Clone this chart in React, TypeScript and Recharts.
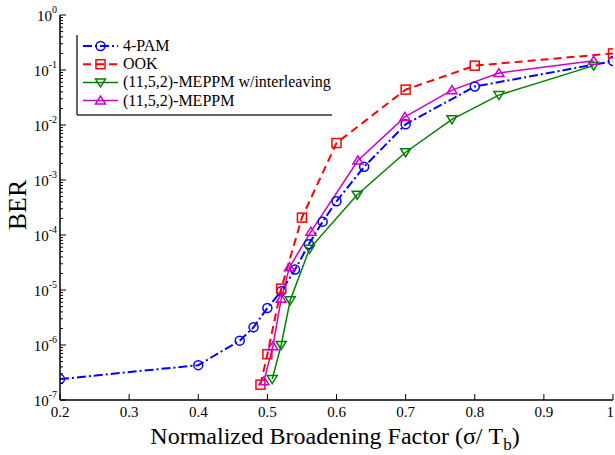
import React from 'react'
import { LineChart, Line, XAxis, YAxis } from 'recharts'

// values
const pamX = [0.2, 0.4, 0.46, 0.48, 0.5, 0.52, 0.54, 0.56, 0.58, 0.6, 0.64, 0.7, 0.8, 1.0]
const pamY = [2.4e-7, 4.3e-7, 1.2e-6, 2.1e-6, 4.7e-6, 9.5e-6, 2.35e-5, 6.8e-5, 1.75e-4, 4.1e-4, 1.74e-3, 1.03e-2, 5.0e-2, 1.45e-1]

const ookX = [0.49, 0.5, 0.52, 0.55, 0.6, 0.7, 0.8, 1.0]
const ookY = [1.9e-7, 6.8e-7, 1.06e-5, 2.07e-4, 4.7e-3, 4.4e-2, 1.2e-1, 2.0e-1]

const interX = [0.507, 0.52, 0.533, 0.561, 0.63, 0.7, 0.767, 0.835, 0.972]
const interY = [2.4e-7, 1.0e-6, 6.5e-6, 5.6e-5, 5.4e-4, 3.2e-3, 1.27e-2, 3.5e-2, 1.2e-1]

const meppmX = [0.495, 0.508, 0.52, 0.532, 0.563, 0.631, 0.699, 0.767, 0.835, 0.972]
const meppmY = [2.2e-7, 9.5e-7, 6.9e-6, 2.6e-5, 1.15e-4, 2.26e-3, 1.4e-2, 4.3e-2, 8.8e-2, 1.48e-1]

const xTicks = [0.2, 0.3, 0.4, 0.5, 0.6, 0.7, 0.8, 0.9, 1]
const xTickLabels = ['0.2', '0.3', '0.4', '0.5', '0.6', '0.7', '0.8', '0.9', '1']
const decadeTicks = [1e-7, 1e-6, 1e-5, 1e-4, 1e-3, 1e-2, 1e-1, 1]
const decadeExps = ['-7', '-6', '-5', '-4', '-3', '-2', '-1', '0']

const minorTicks: number[] = []
decadeTicks.slice(0, -1).forEach((d) => {
  for (let m = 2; m <= 9; m++) minorTicks.push(m * d)
})
const yTicks = [...decadeTicks, ...minorTicks].sort((a, b) => a - b)

const zip = (xs: number[], ys: number[]) => xs.map((x, i) => ({ x, y: ys[i] }))

const series = [
  { name: '4-PAM', data: zip(pamX, pamY), color: '#0000ff', dash: '9 3 2 3', width: 2, marker: 'circle' },
  { name: 'OOK', data: zip(ookX, ookY), color: '#ff0000', dash: '8 5', width: 2, marker: 'square' },
  { name: '(11,5,2)-MEPPM w/interleaving', data: zip(interX, interY), color: '#008000', dash: undefined, width: 1.5, marker: 'down' },
  { name: '(11,5,2)-MEPPM', data: zip(meppmX, meppmY), color: '#cc00cc', dash: undefined, width: 1.5, marker: 'up' },
]

const serif = { fontFamily: "'Liberation Serif', 'Times New Roman', Times, serif" }

function Marker({ cx, cy, kind, color }: any) {
  if (cx == null || cy == null) return null
  const r = 4.5
  if (kind === 'circle')
    return <circle cx={cx} cy={cy} r={r} fill="none" stroke={color} strokeWidth={1.5} />
  if (kind === 'square')
    return <rect x={cx - r} y={cy - r} width={2 * r} height={2 * r} fill="none" stroke={color} strokeWidth={1.5} />
  if (kind === 'down')
    return <path d={`M${cx - r - 0.5},${cy - r + 1} L${cx + r + 0.5},${cy - r + 1} L${cx},${cy + r} Z`} fill="none" stroke={color} strokeWidth={1.5} />
  return <path d={`M${cx - r - 0.5},${cy + r - 1} L${cx + r + 0.5},${cy + r - 1} L${cx},${cy - r} Z`} fill="none" stroke={color} strokeWidth={1.5} />
}

const decadeIndex = (v: number) => decadeTicks.findIndex((d) => Math.abs(v / d - 1) < 1e-6)

function LeftTick({ x, y, payload }: any) {
  const idx = decadeIndex(payload.value)
  const major = idx >= 0
  return (
    <g>
      <line x1={x} y1={y} x2={x + (major ? 6 : 3)} y2={y} stroke="#000" strokeWidth={1} />
      {major && (
        <text x={x - 3} y={y + 6} textAnchor="end" style={serif} fontSize={15} fill="#000">
          10
          <tspan dy={-8} fontSize={10}>{decadeExps[idx]}</tspan>
        </text>
      )}
    </g>
  )
}

function RightTick({ x, y, payload }: any) {
  const major = decadeIndex(payload.value) >= 0
  return <line x1={x} y1={y} x2={x - (major ? 6 : 3)} y2={y} stroke="#000" strokeWidth={1} />
}

function BottomTick({ x, y, payload }: any) {
  const i = xTicks.indexOf(payload.value)
  const last = i === xTicks.length - 1
  return (
    <g>
      <line x1={x} y1={y} x2={x} y2={y - 6} stroke="#000" strokeWidth={1} />
      <text x={last ? x + 1 : x} y={y + 17} textAnchor={last ? 'end' : 'middle'} style={serif} fontSize={15} fill="#000">
        {xTickLabels[i]}
      </text>
    </g>
  )
}

function TopTick({ x, y }: any) {
  return <line x1={x} y1={y} x2={x} y2={y + 6} stroke="#000" strokeWidth={1} />
}

function LegendBox() {
  return (
    <g transform="translate(76,35)">
      <line x1={1} y1={0} x2={1} y2={80} stroke="#333" strokeWidth={1.5} />
      <line x1={1} y1={80} x2={256} y2={80} stroke="#333" strokeWidth={1.5} />
      {series.map((s, i) => {
        const cy = 11 + i * 18.2
        return (
          <g key={s.name}>
            <line x1={7} y1={cy} x2={42} y2={cy} stroke={s.color} strokeWidth={s.width} strokeDasharray={s.dash} />
            <Marker cx={24.5} cy={cy} kind={s.marker} color={s.color} />
            <text x={47} y={cy + 5} style={serif} fontSize={16} fill="#000">
              {s.name}
            </text>
          </g>
        )
      })}
    </g>
  )
}

export default function App() {
  return (
    <div style={{ position: 'absolute', left: 0, top: 0, width: 615, height: 455, background: '#fff' }}>
      <style>{`body{margin:0}`}</style>
      <LineChart width={615} height={455} margin={{ top: 15, right: 2, bottom: 0, left: 0 }}>
        <XAxis
          xAxisId="bottom"
          dataKey="x"
          type="number"
          domain={[0.2, 1]}
          ticks={xTicks}
          allowDataOverflow
          height={55}
          tickSize={0}
          tickMargin={0}
          tickLine={false}
          axisLine={{ stroke: '#000', strokeWidth: 1.5 }}
          tick={<BottomTick />}
          interval={0}
        />
        <XAxis
          xAxisId="top"
          orientation="top"
          dataKey="x"
          type="number"
          domain={[0.2, 1]}
          ticks={xTicks}
          height={0}
          tickSize={0}
          tickMargin={0}
          tickLine={false}
          axisLine={{ stroke: '#000', strokeWidth: 1.5 }}
          tick={<TopTick />}
          interval={0}
        />
        <YAxis
          yAxisId="left"
          dataKey="y"
          scale="log"
          domain={[1e-7, 1]}
          ticks={yTicks}
          allowDataOverflow
          width={60}
          tickSize={0}
          tickMargin={0}
          tickLine={false}
          axisLine={{ stroke: '#000', strokeWidth: 1.5 }}
          tick={<LeftTick />}
          interval={0}
        />
        <YAxis
          yAxisId="right"
          orientation="right"
          dataKey="y"
          scale="log"
          domain={[1e-7, 1]}
          ticks={yTicks}
          allowDataOverflow
          width={0}
          tickSize={0}
          tickMargin={0}
          tickLine={false}
          axisLine={{ stroke: '#000', strokeWidth: 1.5 }}
          tick={<RightTick />}
          interval={0}
        />
        {series.map((s) => (
          <Line
            key={s.name}
            xAxisId="bottom"
            yAxisId="left"
            data={s.data}
            dataKey="y"
            name={s.name}
            stroke={s.color}
            strokeWidth={s.width}
            strokeDasharray={s.dash}
            dot={(p: any) => <Marker key={`${s.name}-${p.index}`} cx={p.cx} cy={p.cy} kind={s.marker} color={s.color} />}
            activeDot={false}
            isAnimationActive={false}
          />
        ))}
        <LegendBox />
        <text x={20} y={205} transform="rotate(-90 20 205)" textAnchor="middle" dominantBaseline="middle" style={serif} fontSize={26} fill="#000">
          BER
        </text>
        <text x={335} y={444} textAnchor="middle" style={serif} fontSize={24} fill="#000">
          Normalized Broadening Factor (σ/ T<tspan dy={6} fontSize={17}>b</tspan><tspan dy={-6}>)</tspan>
        </text>
      </LineChart>
    </div>
  )
}
